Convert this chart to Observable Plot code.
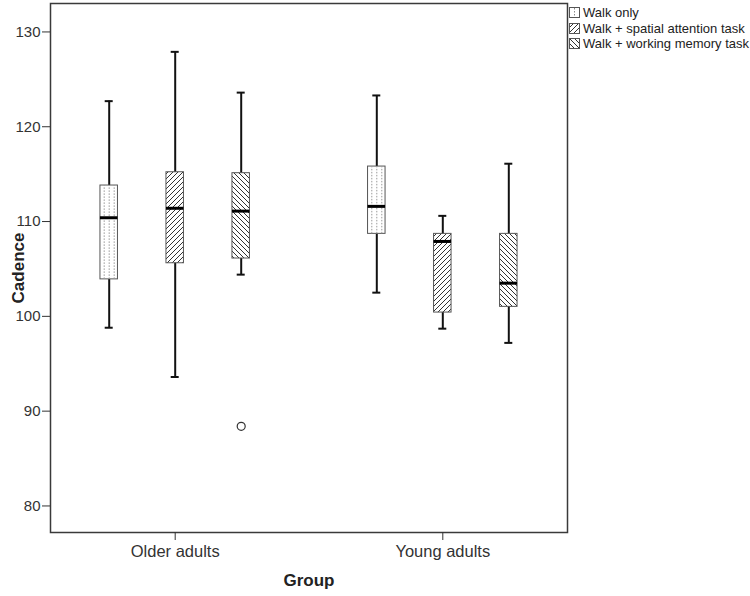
<!DOCTYPE html>
<html><head><meta charset="utf-8">
<script src="https://cdn.jsdelivr.net/npm/d3@7"></script>
<script src="https://cdn.jsdelivr.net/npm/@observablehq/plot@0.6"></script>
<style>
body{margin:0;background:#fff;font-family:"Liberation Sans",Arial,sans-serif;}
#wrap{position:relative;width:750px;height:596px;}
#legend{position:absolute;left:569px;top:5px;font-size:13px;color:#222;}
.row{display:flex;align-items:center;height:15.5px;white-space:nowrap;}
.row svg{margin-right:3px;flex:none;}
</style></head><body>
<div id="wrap">
<svg width="0" height="0" style="position:absolute">
<defs>
 <pattern id="hatchFwd" patternUnits="userSpaceOnUse" width="5" height="5">
  <path d="M-1,1 L1,-1 M0,5 L5,0 M4,6 L6,4" stroke="#333" stroke-width="1"/>
 </pattern>
 <pattern id="hatchBack" patternUnits="userSpaceOnUse" width="5" height="5">
  <path d="M-1,4 L1,6 M0,0 L5,5 M4,-1 L6,1" stroke="#333" stroke-width="1"/>
 </pattern>
</defs>
</svg>
<div id="chart"></div>
<div id="legend"></div>
</div>
<script>
const groups = ["Older adults", "Young adults"];
const conditions = ["Walk only", "Walk + spatial attention task", "Walk + working memory task"];
// values in order: Older (3 conditions), Young (3 conditions)
const whiskerLow  = [98.8, 93.6, 104.4, 102.5, 98.7, 97.2];
const quartile1   = [103.9, 105.6, 106.1, 108.7, 100.4, 101.0];
const medians     = [110.4, 111.4, 111.1, 111.6, 107.9, 103.5];
const quartile3   = [113.8, 115.2, 115.1, 115.8, 108.7, 108.7];
const whiskerHigh = [122.7, 127.9, 123.6, 123.3, 110.6, 116.1];
const outlierGroup = ["Older adults"];
const outlierCondition = ["Walk + working memory task"];
const outlierValue = [88.4];
const yTicks = [80, 90, 100, 110, 120, 130];

const rows = groups.flatMap((g, i) => conditions.map((c, j) => ({
  group: g, condition: c,
  low: whiskerLow[i*3+j], q1: quartile1[i*3+j], median: medians[i*3+j],
  q3: quartile3[i*3+j], high: whiskerHigh[i*3+j]
})));
const outliers = outlierValue.map((v, i) => ({group: outlierGroup[i], condition: outlierCondition[i], value: v}));

const W = 750, H = 596, mL = 50, mR = 183, mT = 3, mB = 64;
const pIn = 0.3, pOut = 0.116;
const step = (W - mL - mR) / (groups.length - pIn + 2 * pOut);
const bw = step * (1 - pIn);
const boxW = 17.5, capW = 8, gap = 66;
const boxInset = (bw - boxW) / 2, capInset = (bw - capW) / 2;
const fills = ["white", "url(#hatchFwd)", "url(#hatchBack)"];

const marks = [];
conditions.forEach((c, j) => {
  const d = rows.filter(r => r.condition === c);
  const dx = (j - 1) * gap;
  marks.push(
    Plot.ruleX(d, {x: "group", y1: "low", y2: "high", stroke: "#111", strokeWidth: 2, dx}),
    Plot.tickY(d, {x: "group", y: "low", stroke: "#111", strokeWidth: 2, insetLeft: capInset, insetRight: capInset, dx}),
    Plot.tickY(d, {x: "group", y: "high", stroke: "#111", strokeWidth: 2, insetLeft: capInset, insetRight: capInset, dx}),
    Plot.barY(d, {x: "group", y1: "q1", y2: "q3", fill: "white", insetLeft: boxInset, insetRight: boxInset, dx}),
    Plot.barY(d, {x: "group", y1: "q1", y2: "q3", fill: fills[j], stroke: "#555", strokeWidth: 1, insetLeft: boxInset, insetRight: boxInset, dx})
  );
  if (j === 0) {
    for (const o of [-5, 0, 5]) {
      marks.push(Plot.ruleX(d, {x: "group", y1: "q1", y2: "q3", stroke: "#999", strokeWidth: 1, strokeDasharray: "1.5,1.5", dx: dx + o}));
    }
  }
  marks.push(Plot.tickY(d, {x: "group", y: "median", stroke: "#000", strokeWidth: 3, insetLeft: boxInset, insetRight: boxInset, dx}));
  const od = outliers.filter(o => o.condition === c);
  if (od.length) marks.push(Plot.dot(od, {x: "group", y: "value", r: 4, stroke: "#333", fill: "white", strokeWidth: 1.2, dx}));
});

const chart = Plot.plot({
  width: W, height: H,
  marginLeft: mL, marginRight: mR, marginTop: mT, marginBottom: mB,
  style: {fontFamily: "'Liberation Sans', Arial, sans-serif", color: "#333", background: "white"},
  x: {type: "band", domain: groups, paddingInner: pIn, paddingOuter: pOut, round: false},
  y: {domain: [77.2, 133]},
  marks: [
    ...marks,
    Plot.frame({stroke: "#3a3a3a", strokeWidth: 1.5}),
    Plot.axisY({ticks: yTicks, tickSize: 8, tickPadding: 2, fontSize: 15, label: null}),
    Plot.axisX({tickSize: 8, tickPadding: 5, fontSize: 16.5, label: null}),
    Plot.text(["Cadence"], {text: d => d, frameAnchor: "left", textAnchor: "middle", dx: -32, rotate: -90, fontSize: 17, fontWeight: "bold", fill: "#222"}),
    Plot.text(["Group"], {text: d => d, frameAnchor: "bottom", textAnchor: "middle", dy: 53, fontSize: 17, fontWeight: "bold", fill: "#222"})
  ]
});
document.getElementById("chart").appendChild(chart);

const legend = document.getElementById("legend");
const swatchFill = ["white", "url(#hatchFwd)", "url(#hatchBack)"];
conditions.forEach((c, j) => {
  const row = document.createElement("div");
  row.className = "row";
  let extra = j === 0 ? '<line x1="5.5" y1="1" x2="5.5" y2="10" stroke="#888" stroke-dasharray="1.5,1.5"/>' : '';
  row.innerHTML = `<svg width="11" height="11"><rect x="0.5" y="0.5" width="10" height="10" fill="white"/><rect x="0.5" y="0.5" width="10" height="10" fill="${swatchFill[j]}" stroke="#555"/>${extra}</svg><span>${c}</span>`;
  legend.appendChild(row);
});
</script>
</body></html>
